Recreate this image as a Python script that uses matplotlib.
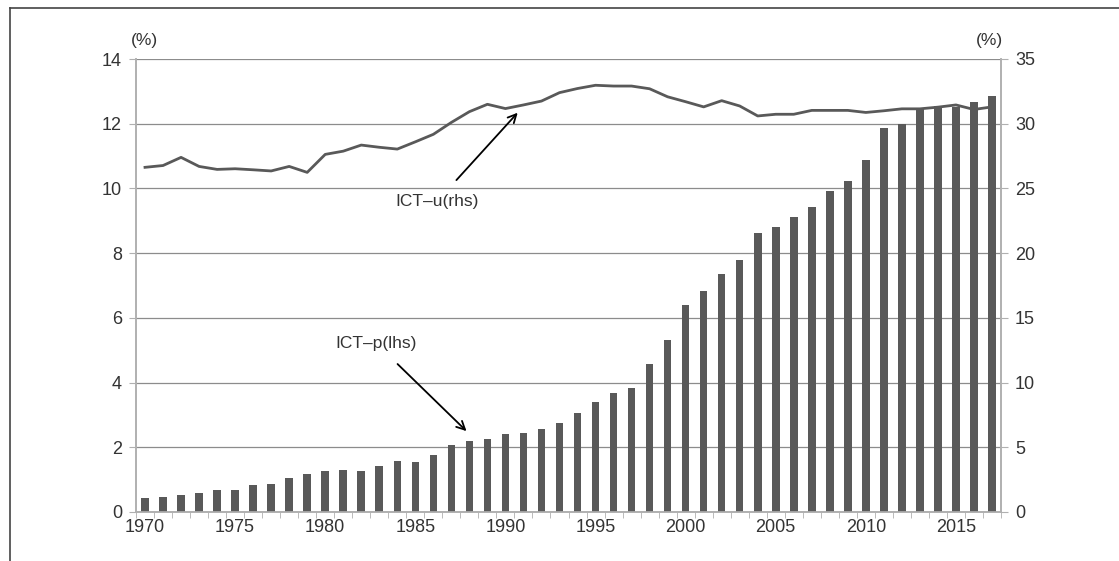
import matplotlib.pyplot as plt
import numpy as np
from matplotlib.lines import Line2D
from matplotlib.ticker import FixedLocator

plt.rcParams['font.family'] = ['Liberation Sans', 'DejaVu Sans']

years = np.arange(1970, 2018)

# ICT-p (lhs), bars
ict_p = [0.42, 0.47, 0.51, 0.59, 0.69, 0.69, 0.82, 0.86, 1.04, 1.16,
         1.28, 1.31, 1.28, 1.42, 1.58, 1.56, 1.75, 2.06, 2.20, 2.25,
         2.40, 2.43, 2.56, 2.75, 3.05, 3.41, 3.68, 3.82, 4.56, 5.33,
         6.40, 6.82, 7.36, 7.78, 8.62, 8.81, 9.13, 9.42, 9.92, 10.22,
         10.89, 11.86, 12.00, 12.45, 12.55, 12.51, 12.68, 12.85]

# ICT-u (rhs), line
ict_u = [26.63, 26.77, 27.40, 26.70, 26.47, 26.52, 26.44, 26.35, 26.70, 26.24,
         27.63, 27.88, 28.35, 28.18, 28.04, 28.60, 29.18, 30.10, 30.93, 31.50,
         31.17, 31.45, 31.75, 32.40, 32.72, 32.97, 32.91, 32.91, 32.70, 32.08,
         31.70, 31.30, 31.78, 31.37, 30.60, 30.73, 30.73, 31.03, 31.03, 31.03,
         30.87, 31.00, 31.15, 31.15, 31.28, 31.45, 31.10, 31.30]

dark = '#595959'
grid_c = '#8c8c8c'
spine_c = '#b0b0b0'
txt_c = '#333333'

fig = plt.figure(figsize=(11.19, 5.61), dpi=100)
ax = fig.add_axes([136 / 1119, 1 - 512 / 561, 865 / 1119, 453 / 561])
ax2 = ax.twinx()

ax.bar(years, ict_p, width=0.42, color=dark, zorder=3)
ax2.plot(years, ict_u, color=dark, lw=2.0, zorder=4)

ax.set_xlim(1969.5, 2017.5)
ax.set_ylim(0, 14)
ax2.set_ylim(0, 35)
ax.set_yticks(np.arange(0, 15, 2))
ax2.set_yticks(np.arange(0, 36, 5))
ax.set_xticks(np.arange(1970, 2018, 5))
ax.xaxis.set_minor_locator(FixedLocator(np.arange(1969.5, 2018, 1)))
ax.tick_params(axis='x', which='major', length=0, pad=5, labelsize=13, colors=txt_c)
ax.tick_params(axis='x', which='minor', length=4, color=spine_c, direction='out')
ax.tick_params(axis='y', length=5, color=spine_c, pad=5, labelsize=13, labelcolor=txt_c)
ax2.tick_params(axis='y', length=5, color=spine_c, pad=5, labelsize=13, labelcolor=txt_c)

ax.grid(axis='y', color=grid_c, lw=0.9, zorder=0)
for a in (ax, ax2):
    a.spines['top'].set_visible(False)
    for s in ('left', 'right', 'bottom'):
        a.spines[s].set_color(spine_c)
        a.spines[s].set_linewidth(1.2)

ax.text(-0.006, 1.025, '(%)', transform=ax.transAxes, ha='left', va='bottom',
        fontsize=12.5, color=txt_c)
ax2.text(1.002, 1.025, '(%)', transform=ax2.transAxes, ha='right', va='bottom',
         fontsize=12.5, color=txt_c)

ax2.annotate('ICT\u2013u(rhs)', xy=(1990.68, 12.34), xytext=(1986.19, 9.59),
             xycoords=ax.transData, textcoords=ax.transData,
             ha='center', va='center', fontsize=12.5, color=txt_c,
             arrowprops=dict(arrowstyle='->', color='black', lw=1.3,
                             shrinkA=11, shrinkB=0, mutation_scale=15))
ax2.annotate('ICT\u2013p(lhs)', xy=(1987.84, 2.5), xytext=(1982.82, 5.22),
             xycoords=ax.transData, textcoords=ax.transData,
             ha='center', va='center', fontsize=12.5, color=txt_c,
             arrowprops=dict(arrowstyle='->', color='black', lw=1.3,
                             shrinkA=11, shrinkB=0, mutation_scale=15))

# frame pieces around the chart
fig.add_artist(Line2D([9.5 / 1119, 1.0], [1 - 7.5 / 561] * 2, color='#444444', lw=1.2))
fig.add_artist(Line2D([9.5 / 1119] * 2, [0, 1 - 7.5 / 561], color='#444444', lw=1.2))

fig.savefig('out.png', dpi=100)
